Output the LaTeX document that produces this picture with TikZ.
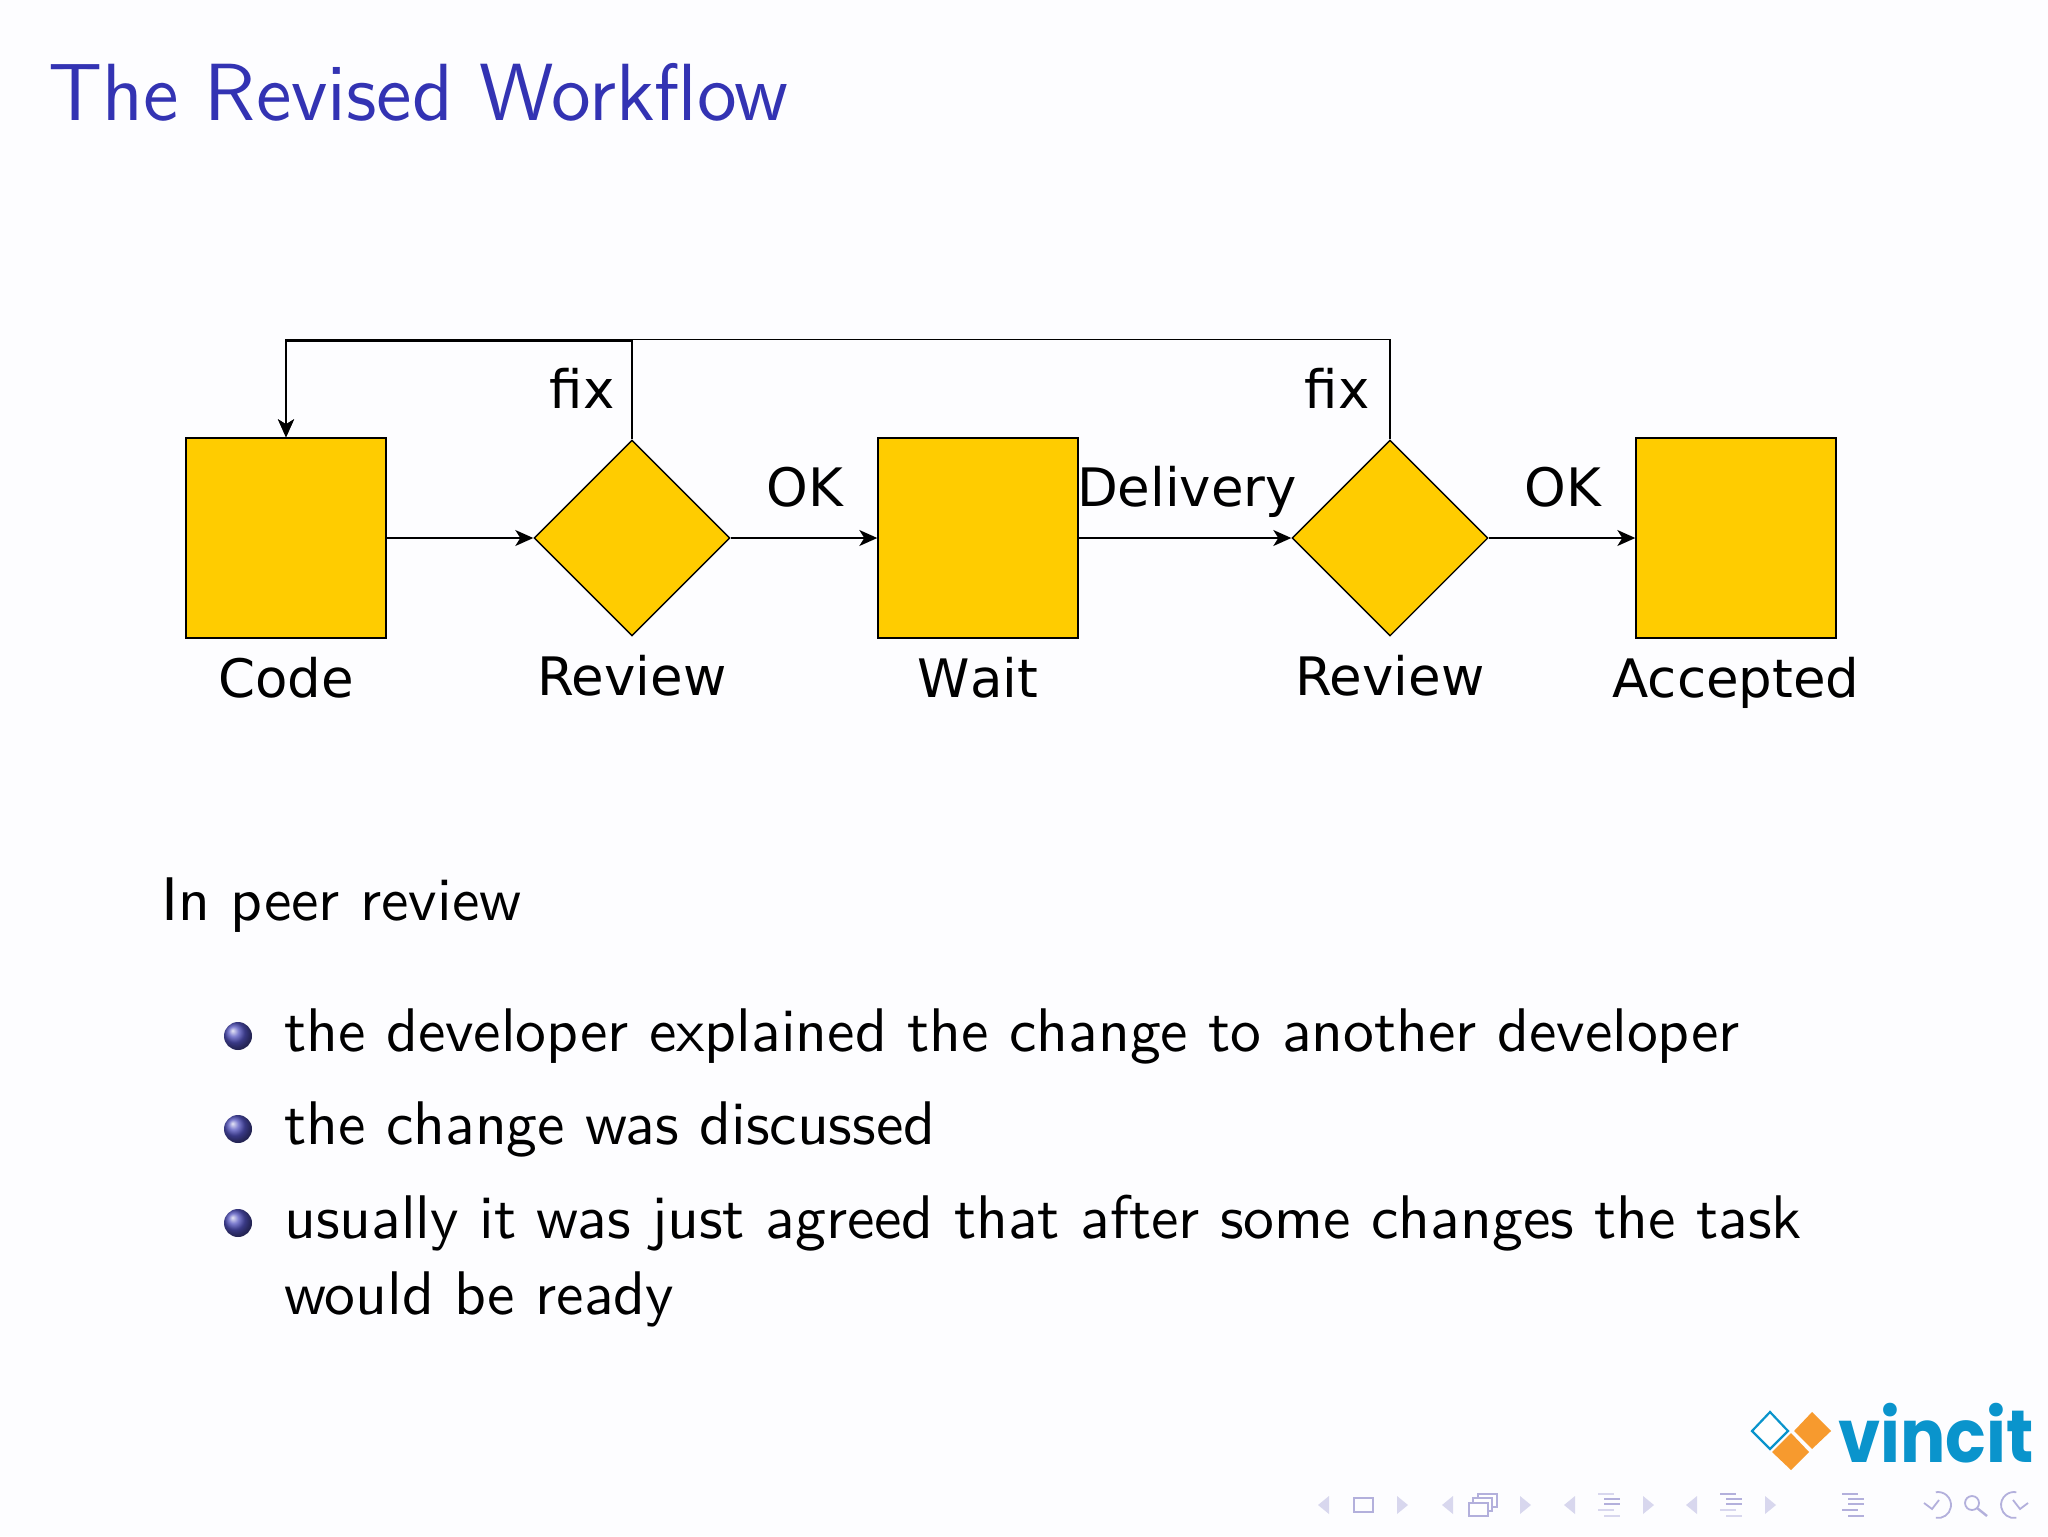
\documentclass[tikz,border=0pt]{standalone}
\usepackage{fontspec}
\usetikzlibrary{shapes.geometric,arrows.meta,calc}
\newfontfamily\djv{DejaVu Sans}
\newfontfamily\logofont{Poppins}
\definecolor{boxfill}{HTML}{FFCC00}
\definecolor{titleblue}{HTML}{3333B3}
\definecolor{logoblue}{HTML}{0A94CC}
\definecolor{logoorange}{HTML}{F79A2E}
\definecolor{navdark}{HTML}{B3B0DC}
\definecolor{navlight}{HTML}{D8D7EE}
\tikzset{
  stepbox/.style={draw=black,fill=boxfill,line width=.7pt,minimum width=100pt,minimum height=100pt,inner sep=0pt},
  decide/.style={draw=black,fill=boxfill,line width=.7pt,shape=diamond,minimum width=98pt,minimum height=98pt,inner sep=0pt},
  flow/.style={draw=black,line width=.75pt,-{Stealth[length=9pt,width=8pt,inset=2.5pt]}},
  lab/.style={font=\djv\fontsize{26.5}{30}\selectfont,text=black,anchor=base,inner sep=0pt},
  body/.style={font=\sffamily\fontsize{10}{12}\selectfont,scale=3.08,transform shape,text=black,anchor=base west,inner sep=0pt},
  ballmark/.style={ball color=titleblue!85!white},
  navtri/.style={fill=navlight,draw=none},
  navline/.style={draw=navdark,line width=.9pt},
}
\begin{document}
\begin{tikzpicture}[x=.5pt,y=-.5pt]
\useasboundingbox (0,0) rectangle (2048,1536);
\fill[white!98!blue!40!white] (0,0) rectangle (2048,1536);
\node[font=\sffamily\fontsize{12}{14}\selectfont,scale=3.38,transform shape,text=titleblue,anchor=base west,inner sep=0pt] (title) at (47,120.5) {The Revised Workflow};

\node[stepbox] (code) at (286,538) {};
\node[decide] (rev1) at (632,538) {};
\node[stepbox] (wait) at (978,538) {};
\node[decide] (rev2) at (1390,538) {};
\node[stepbox] (acc) at (1736,538) {};
\coordinate (topa) at (0,341);
\coordinate (topb) at (0,339.5);

\draw[flow] (code) -- (rev1);
\draw[flow] (rev1) -- (wait);
\draw[flow] (wait) -- (rev2);
\draw[flow] (rev2) -- (acc);
\draw[flow] (rev1.north) -- (rev1.north |- topa) -| (code.north);
\draw[flow] (rev2.north) -- (rev2.north |- topb) -| (code.north);

\node[lab] (lcode) at (286,697) {Code};
\node[lab] (lrev1) at (632,695.5) {Review};
\node[lab] (lwait) at (978,697) {W\kern0pt ait};
\node[lab] (lrev2) at (1390,695.5) {Review};
\node[lab] (lacc) at (1736,697) {Accepted};
\node[lab] (fix1) at (582,408) {fix};
\node[lab] (fix2) at (1337,408) {fix};
\node[lab] (ok1) at (805,506.5) {OK};
\node[lab] (ok2) at (1563,506.5) {OK};
\node[lab] (deliv) at (1187,506.5) {Delivery};

\node[body] (intro) at (160,920) {In peer review};
\shade[ballmark] (238,1036) circle (14);
\shade[ballmark] (238,1129) circle (14);
\shade[ballmark] (238,1223) circle (14);
\node[body] (b1) at (283,1051) {the developer explained the change to another developer};
\node[body] (b2) at (283,1144) {the change was discussed};
\node[body] (b3) at (283,1238) {usually it was just agreed that after some changes the task};
\node[body] (b3b) at (283,1314.5) {would be ready};

% logo
\draw[logoblue,line width=1.1pt,fill=white] (1752,1431) -- (1770,1412) -- (1788,1431) -- (1770,1449) -- cycle;
\fill[logoorange] (1794,1431) -- (1812,1412) -- (1831,1431) -- (1812,1449) -- cycle;
\fill[logoorange] (1772,1452) -- (1791,1433) -- (1809,1452) -- (1791,1470) -- cycle;
\node[font=\logofont\bfseries\fontsize{37}{42}\selectfont,text=logoblue,anchor=base east,inner sep=0pt,xscale=.91] (logo) at (2034,1462) {vincit};

% navigation symbols
\foreach \x in {1318,1442,1564,1686}{\fill[navtri] (\x,1505) -- (\x+11,1496) -- (\x+11,1514) -- cycle;}
\foreach \x in {1397,1520,1643,1765}{\fill[navtri] (\x,1496) -- (\x+11,1505) -- (\x,1514) -- cycle;}
\draw[navline] (1354,1498) rectangle (1373,1512);
\draw[navline,fill=white] (1478,1494) rectangle (1497,1507);
\draw[navline,fill=white] (1473,1498) rectangle (1492,1511);
\draw[navline,fill=white] (1469,1503) rectangle (1488,1516);
\foreach \y/\l/\r/\c in {1494/1598/1614/navlight,1499/1604/1620/navdark,1504/1604/1620/navdark,1510/1598/1614/navlight,1516/1604/1620/navlight}{\draw[\c,line width=1.2pt] (\l,\y) -- (\r,\y);}
\foreach \y/\l/\r/\c in {1494/1720/1736/navdark,1499/1726/1742/navdark,1504/1726/1742/navdark,1510/1720/1736/navlight,1516/1726/1742/navlight}{\draw[\c,line width=1.2pt] (\l,\y) -- (\r,\y);}
\foreach \y/\l/\r in {1494/1842/1858,1499/1848/1864,1504/1848/1864,1510/1842/1858,1516/1848/1864}{\draw[navdark,line width=1.2pt] (\l,\y) -- (\r,\y);}
% back / search / forward
\draw[navline] (1938,1505) ++(100:13) arc (100:-100:13);
\draw[navline] (1924,1503) -- (1932,1509) -- (1939,1500);
\draw[navline] (1972,1503) circle (7);
\draw[navline,line width=1.2pt] (1977,1508) -- (1987,1516);
\draw[navline] (2014,1505) ++(80:13) arc (80:280:13);
\draw[navline] (2028,1503) -- (2020,1509) -- (2013,1500);
\end{tikzpicture}
\end{document}
